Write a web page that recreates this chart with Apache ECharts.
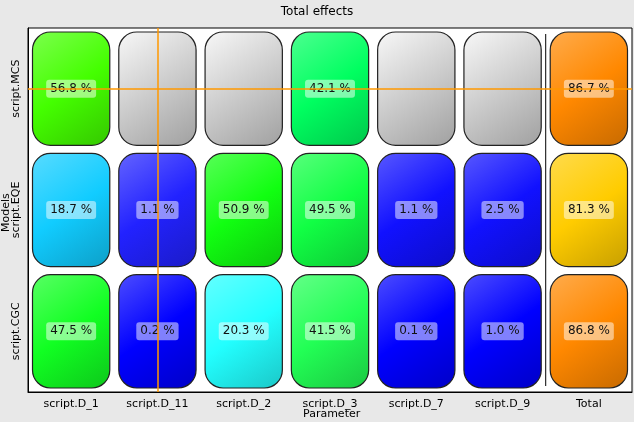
<!DOCTYPE html>
<html><head><meta charset="utf-8">
<script src="https://cdn.jsdelivr.net/npm/echarts@6/dist/echarts.min.js"></script>
<style>html,body{margin:0;padding:0;background:#e8e8e8}#chart{width:634px;height:422px}</style>
</head><body><div id="chart"></div>
<script>
const params = ['script.D_1','script.D_11','script.D_2','script.D_3','script.D_7','script.D_9','Total']
const models = ['script.CGC','script.EQE','script.MCS']
// values per model, null = not available
const mcsValues = [56.8, null, null, 42.1, null, null, 86.7]
const eqeValues = [18.7, 1.1, 50.9, 49.5, 1.1, 2.5, 81.3]
const cgcValues = [47.5, 0.2, 20.3, 41.5, 0.1, 1.0, 86.8]
const mcsColors = ['#44ff00', null, null, '#00ff60', null, null, '#ff8800']
const eqeColors = ['#11ccff', '#2222ff', '#11ff11', '#11ff44', '#1111ff', '#1111ff', '#ffcc00']
const cgcColors = ['#11ff22', '#0000ff', '#22ffff', '#22ff55', '#0000ff', '#0000ff', '#ff8800']

const rows = [[cgcValues, cgcColors], [eqeValues, eqeColors], [mcsValues, mcsColors]]
const data = []
rows.forEach(([vals, cols], y) => vals.forEach((v, x) => data.push([x, y, v, cols[x]])))

function shade(hex, f) {
  const n = parseInt(hex.slice(1), 16)
  const c = [n >> 16, (n >> 8) & 255, n & 255].map(v => f > 0 ? Math.round(v + (255 - v) * f) : Math.round(v * (1 + f)))
  return 'rgb(' + c.join(',') + ')'
}

const chart = echarts.init(document.getElementById('chart'))
chart.setOption({
  backgroundColor: '#e8e8e8',
  textStyle: { fontFamily: 'DejaVu Sans' },
  title: { text: 'Total effects', left: 'center', top: 1, textStyle: { fontSize: 12, fontWeight: 'normal', color: '#000' } },
  graphic: [
    { type: 'text', left: 330 - 27, top: 409, style: { text: 'Parameter', fontSize: 11, fill: '#000', fontFamily: 'DejaVu Sans' } },
    { type: 'text', x: 1, y: 232, rotation: Math.PI / 2, style: { text: 'Models', fontSize: 11, fill: '#000', fontFamily: 'DejaVu Sans' } }
  ],
  grid: { left: 28, right: 2, top: 28, bottom: 30, containLabel: false, outerBoundsMode: 'none',
    backgroundColor: '#fff', show: true, borderColor: '#000', borderWidth: 1 },
  xAxis: {
    type: 'category', data: params,
    axisLine: { lineStyle: { color: '#000' } }, axisTick: { show: false },
    axisLabel: { color: '#000', fontSize: 11, margin: 7 }
  },
  yAxis: {
    type: 'category', data: models,
    axisLine: { lineStyle: { color: '#000' } }, axisTick: { show: false },
    axisLabel: { color: '#000', fontSize: 11, rotate: 90, margin: 6 }
  },
  series: [{
    type: 'custom',
    data: data,
    renderItem(params, api) {
      const x = api.value(0), y = api.value(1), v = api.value(2)
      const col = data[params.dataIndex][3]
      const c = api.coord([x, y])
      const s = api.size([1, 1])
      const w = s[0] - 9, h = s[1] - 8
      const fill = col ? new echarts.graphic.LinearGradient(0, 0, 1, 1, [
        { offset: 0, color: shade(col, 0.3) }, { offset: 0.5, color: col }, { offset: 1, color: shade(col, -0.22) }])
        : new echarts.graphic.LinearGradient(0, 0, 1, 1, [
        { offset: 0, color: '#f8f8f8' }, { offset: 1, color: '#a0a0a0' }])
      const children = [{
        type: 'rect', shape: { x: c[0] - w / 2, y: c[1] - h / 2, width: w, height: h, r: 18 },
        style: { fill: fill, stroke: '#222', lineWidth: 1.2 }
      }]
      if (v !== null && !isNaN(v)) {
        children.push({
          type: 'text', x: c[0], y: c[1],
          style: { text: v.toFixed(1) + ' %', align: 'center', verticalAlign: 'middle', fontSize: 12,
            fontFamily: 'DejaVu Sans', fill: '#111', backgroundColor: 'rgba(255,255,255,0.5)',
            padding: [3, 4], borderRadius: 3 }
        })
      }
      if (params.dataIndex === 0) {
        // separator between parameters and Total
        const a = api.coord([5, 0]), b = api.coord([6, 0]), top = api.coord([0, 2])
        const xm = (a[0] + b[0]) / 2
        children.push({ type: 'line', shape: { x1: xm, y1: top[1] - s[1] / 2 + 6, x2: xm, y2: c[1] + s[1] / 2 - 6 },
          style: { stroke: '#000', lineWidth: 1 } })
      }
      return { type: 'group', children }
    },
    markLine: {
      silent: true, symbol: 'none', label: { show: false },
      lineStyle: { color: '#ff9900', type: 'solid', width: 1.5 },
      data: [{ xAxis: 'script.D_11' }, { yAxis: 'script.MCS' }]
    }
  }]
})
</script></body></html>
